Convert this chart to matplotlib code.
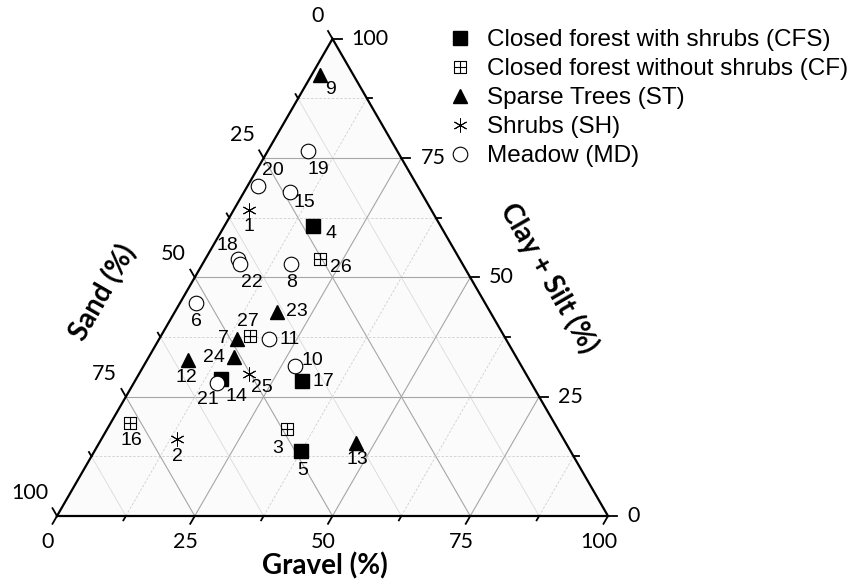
import numpy as np
import matplotlib.pyplot as plt
from matplotlib.path import Path
from matplotlib.lines import Line2D

H = np.sqrt(3) / 2

# Gravel and clay+silt content (%) per sample; sand is the remainder
cfs_ids = [4, 5, 14, 17]
cfs_gravel = [16.1, 37.5, 15.5, 30.4]
cfs_clay = [60.8, 13.6, 28.7, 28.3]

cf_ids = [3, 16, 26, 27]
cf_gravel = [32.6, 3.5, 20.8, 16.1]
cf_clay = [18.2, 19.5, 53.9, 37.7]

st_ids = [7, 9, 12, 13, 23, 24]
st_gravel = [14.2, 1.5, 7.4, 46.6, 18.5, 15.4]
st_clay = [37.1, 92.5, 32.7, 15.3, 42.8, 33.3]

sh_ids = [1, 2, 25]
sh_gravel = [2.7, 13.7, 19.9]
sh_clay = [64.2, 16.1, 29.8]

md_ids = [6, 8, 10, 11, 15, 18, 19, 20, 21, 22]
md_gravel = [2.9, 16.1, 27.5, 19.9, 8.3, 5.9, 7.3, 1.9, 15.1, 6.8]
md_clay = [44.7, 52.8, 31.4, 37.1, 67.9, 53.9, 76.5, 69.2, 27.9, 52.8]

ticks = [0, 25, 50, 75, 100]

# where each sample number sits relative to its marker (pixels, y up)
label_off = {
    1: (0, -17), 2: (1, -17), 3: (-9, -19), 4: (18, -8), 5: (2, -19),
    6: (0, -19), 7: (-14, 0), 8: (0, -18), 9: (10, -15), 10: (17, 6),
    11: (21, -1), 12: (-1, -18), 13: (1, -17), 14: (15, -17), 15: (15, -11),
    16: (1, -18), 17: (21, -1), 18: (-11, 13), 19: (10, -19), 20: (15, 15),
    21: (-9, -17), 22: (12, -18), 23: (20, 0), 24: (-20, 0), 25: (13, -14),
    26: (21, -9), 27: (-2, 15),
}


def tern(g, c):
    g = np.asarray(g, float)
    c = np.asarray(c, float)
    return g + c / 2, c * H


# square with a cross through it
cf_marker = Path(
    [(-1, -1), (1, -1), (1, 1), (-1, 1), (-1, -1),
     (0, -1), (0, 1), (-1, 0), (1, 0)],
    [Path.MOVETO, Path.LINETO, Path.LINETO, Path.LINETO, Path.CLOSEPOLY,
     Path.MOVETO, Path.LINETO, Path.MOVETO, Path.LINETO])

groups = [
    ("Closed forest with shrubs (CFS)", cfs_ids, cfs_gravel, cfs_clay,
     dict(marker="s", ms=9.5, mfc="black", mec="black")),
    ("Closed forest without shrubs (CF)", cf_ids, cf_gravel, cf_clay,
     dict(marker=cf_marker, ms=9, mfc="none", mec="black", mew=0.8)),
    ("Sparse Trees (ST)", st_ids, st_gravel, st_clay,
     dict(marker="^", ms=10, mfc="black", mec="black")),
    ("Shrubs (SH)", sh_ids, sh_gravel, sh_clay,
     dict(marker=(6, 2, 0), ms=10, mfc="none", mec="black", mew=0.7)),
    ("Meadow (MD)", md_ids, md_gravel, md_clay,
     dict(marker="o", ms=10.5, mfc="white", mec="black", mew=0.8)),
]

tick_font = "Lato"
text_font = "Liberation Sans"

fig = plt.figure(figsize=(8.6, 5.82), dpi=100)
ax = fig.add_axes([0, 0, 1, 1])
ppu = 5.51  # pixels per percent
ax.set_xlim(-57 / ppu, (860 - 57) / ppu)
ax.set_ylim(-(582 - 516) / ppu, 516 / ppu)
ax.axis("off")

# background of the triangle
ax.fill([0, 100, 50], [0, 0, 100 * H], color="#fbfbfb", zorder=0)

# grid
for v in np.arange(12.5, 100, 12.5):
    major = v % 25 == 0
    solid = dict(color="#a6a6a6", lw=0.8) if major else None
    # constant clay+silt (horizontal)
    x, y = tern([0, 100 - v], [v, v])
    ax.plot(x, y, zorder=1, **(solid or dict(color="#cfcfcf", lw=0.6, ls=(0, (3, 2)))))
    # constant gravel
    x, y = tern([v, v], [0, 100 - v])
    ax.plot(x, y, zorder=1, **(solid or dict(color="#cfcfcf", lw=0.6, ls=(0, (3, 2)))))
    # constant sand
    x, y = tern([100 - v, 0], [0, 100 - v])
    ax.plot(x, y, zorder=1, **(solid or dict(color="#dadada", lw=0.6)))

# triangle outline
ax.plot([0, 100, 50, 0], [0, 0, 100 * H, 0], color="black", lw=1.6,
        solid_joinstyle="miter", zorder=3)

# ticks and tick labels
maj, mnr = 9 / ppu, 5 / ppu
for v in np.arange(0, 100.1, 12.5):
    L = maj if v % 25 == 0 else mnr
    # gravel (bottom), ticks point down-left
    x, y = tern(v, 0)
    ax.plot([x, x - 0.5 * L], [y, y - H * L], color="black", lw=1.3, zorder=3)
    # sand (left), ticks point up-left
    x, y = tern(0, 100 - v)
    ax.plot([x, x - 0.5 * L], [y, y + H * L], color="black", lw=1.3, zorder=3)
    # clay + silt (right), ticks point right
    x, y = tern(100 - v, v)
    ax.plot([x, x + L], [y, y], color="black", lw=1.3, zorder=3)

for v in ticks:
    x, y = tern(v, 0)
    ax.annotate(str(v), (x, y), xytext=(-9, -26), textcoords="offset pixels",
                ha="center", va="center", fontsize=15.5, family=tick_font)
    x, y = tern(0, 100 - v)
    ax.annotate(str(v), (x, y), xytext=(-9, 23), textcoords="offset pixels",
                ha="right", va="center", fontsize=15.5, family=tick_font)
    x, y = tern(100 - v, v)
    ax.annotate(str(v), (x, y), xytext=(19, 0), textcoords="offset pixels",
                ha="left", va="center", fontsize=15.5, family=tick_font)

# axis titles
fig.text(325 / 860, 1 - 566 / 582, "Gravel (%)", ha="center", va="center",
         fontsize=20, fontweight="bold", family=tick_font)
fig.text(103 / 860, 1 - 293 / 582, "Sand (%)", ha="center", va="center",
         rotation=60, fontsize=20, fontweight="bold", family=tick_font)
fig.text(549 / 860, 1 - 278 / 582, "Clay + Silt (%)", ha="center", va="center",
         rotation=-60, fontsize=20, fontweight="bold", family=tick_font)

# samples
handles = []
for name, ids, g, c, style in groups:
    x, y = tern(g, c)
    ax.plot(x, y, ls="none", zorder=5, **style)
    for i, xi, yi in zip(ids, x, y):
        dx, dy = label_off[i]
        ax.annotate(str(i), (xi, yi), xytext=(dx, dy), textcoords="offset pixels",
                    ha="center", va="center", fontsize=14, family=text_font, zorder=6)
    handles.append(Line2D([], [], ls="none", label=name, **style))

fig.legend(handles=handles, loc="upper left", bbox_to_anchor=(448 / 860, 1 - 29 / 582),
           frameon=False, handlelength=1.0, handletextpad=0.6, labelspacing=0.29,
           borderpad=0, borderaxespad=0,
           prop=dict(family=text_font, size=17.5))

fig.savefig("out.png", dpi=100)
